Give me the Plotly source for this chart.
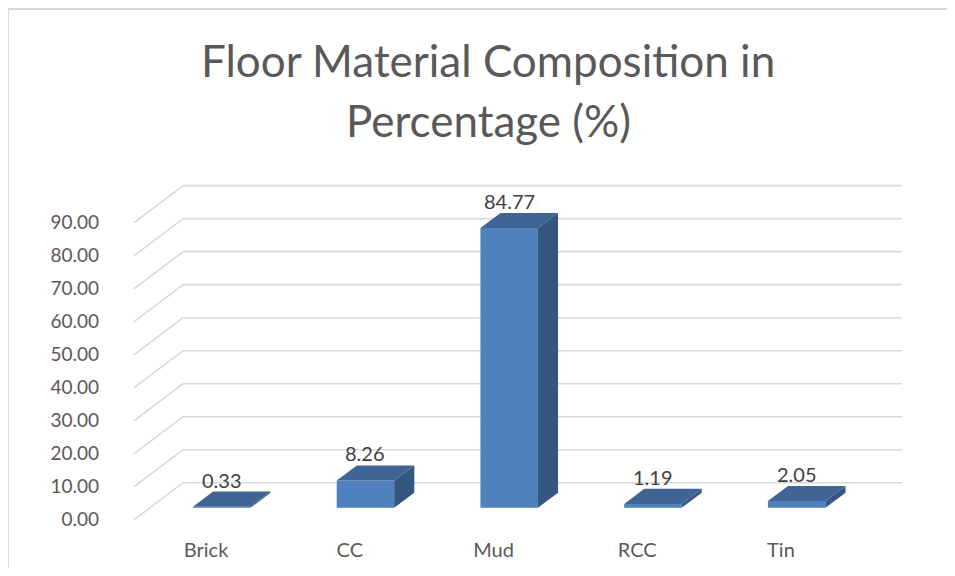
import plotly.graph_objects as go

# ---- data ----
categories = ["Brick", "CC", "Mud", "RCC", "Tin"]
values = [0.33, 8.26, 84.77, 1.19, 2.05]
tick_values = [0, 10, 20, 30, 40, 50, 60, 70, 80, 90]
title_lines = ["Floor Material Composition in", "Percentage (%)"]

# ---- pseudo-3D geometry (data units) ----
DXU = 0.341   # full depth horizontal shift (category units)
DYU = 11.2    # full depth vertical shift (value units)
D0, D1 = 0.32, 0.73   # bar depth span (fractions of full depth)
W = 0.40      # bar width

FRONT = "#4F81BD"
TOP = "#3E6594"
SIDE = "#34577F"
GRID = "#D9D9D9"

# ---- layout frame (page body has an 8px margin) ----
FIG_W, FIG_H = 939, 560
XR = [-0.55, 4.87]
YR = [-1.0, 102.0]
ML, MR, MT, MB = 119, 41, 175, 45
PLOT_W = FIG_W - ML - MR
PLOT_H = FIG_H - MT - MB


def paper_x(screen_px):
    return (screen_px - 8 - ML) / PLOT_W


def paper_y(screen_py):
    return (FIG_H - MB - (screen_py - 8)) / PLOT_H


xs = list(range(len(categories)))
fig = go.Figure()

# back wall + left wall gridlines (shapes below traces)
xl, xr = -0.5, len(categories) - 0.5
for v in tick_values:
    fig.add_shape(type="line", xref="x", yref="y", x0=xl, y0=v, x1=xl + DXU, y1=v + DYU,
                  line=dict(color=GRID, width=1.6), layer="below")
    fig.add_shape(type="line", xref="x", yref="y", x0=xl + DXU, y0=v + DYU, x1=xr + DXU, y1=v + DYU,
                  line=dict(color=GRID, width=1.6), layer="below")

ddx = (D1 - D0) * DXU
ddy = (D1 - D0) * DYU
for i, v in zip(xs, values):
    x0 = i + D0 * DXU - W / 2
    x1 = i + D0 * DXU + W / 2
    b = D0 * DYU
    t = b + v
    # front face
    fig.add_trace(go.Scatter(
        x=[x0, x1, x1, x0, x0], y=[b, b, t, t, b],
        mode="lines", fill="toself", fillcolor=FRONT, line=dict(width=0, color=FRONT),
        hoverinfo="skip", showlegend=False))
    # side face
    fig.add_trace(go.Scatter(
        x=[x1, x1, x1 + ddx, x1 + ddx, x1], y=[b, t, t + ddy, b + ddy, b],
        mode="lines", fill="toself", fillcolor=SIDE, line=dict(width=0, color=SIDE),
        hoverinfo="skip", showlegend=False))
    # top face
    fig.add_trace(go.Scatter(
        x=[x0, x1, x1 + ddx, x0 + ddx, x0], y=[t, t, t + ddy, t + ddy, t],
        mode="lines", fill="toself", fillcolor=TOP, line=dict(width=0, color=TOP),
        hoverinfo="skip", showlegend=False))
    # data label
    fig.add_annotation(
        x=i + D0 * DXU, y=D1 * DYU + v, text=f"{v:.2f}", showarrow=False,
        yanchor="middle", yshift=12,
        font=dict(family="Lato", size=20, color="#404040"))

# title lines
for txt, py in zip(title_lines, [60, 120]):
    fig.add_annotation(
        xref="paper", yref="paper", x=paper_x(488), y=paper_y(py), text=txt, showarrow=False,
        xanchor="center", yanchor="middle",
        font=dict(family="Lato", size=44, color="#595959"))

# chart border (top & left edges visible in frame)
fig.add_shape(type="line", xref="paper", yref="paper",
              x0=paper_x(8), x1=paper_x(1000), y0=paper_y(9), y1=paper_y(9),
              line=dict(color="#D9D9D9", width=2), layer="below")
fig.add_shape(type="line", xref="paper", yref="paper",
              x0=paper_x(8), x1=paper_x(8), y0=paper_y(9), y1=paper_y(600),
              line=dict(color="#D9D9D9", width=2), layer="below")

fig.update_layout(
    width=FIG_W, height=FIG_H,
    margin=dict(l=ML, r=MR, t=MT, b=MB, pad=0, autoexpand=False),
    paper_bgcolor="white", plot_bgcolor="white",
    xaxis=dict(range=XR, tickmode="array", tickvals=xs, ticktext=categories,
               showgrid=False, zeroline=False, showline=False, automargin=False,
               ticks="", ticklabelstandoff=13,
               tickfont=dict(family="Lato", size=20, color="#595959")),
    yaxis=dict(range=YR, tickmode="array", tickvals=tick_values,
               ticktext=[f"{v:.2f}" for v in tick_values],
               showgrid=False, zeroline=False, showline=False, automargin=False,
               ticks="", ticklabelstandoff=27,
               tickfont=dict(family="Lato", size=19, color="#595959")),
)

fig.write_html("out.html")
